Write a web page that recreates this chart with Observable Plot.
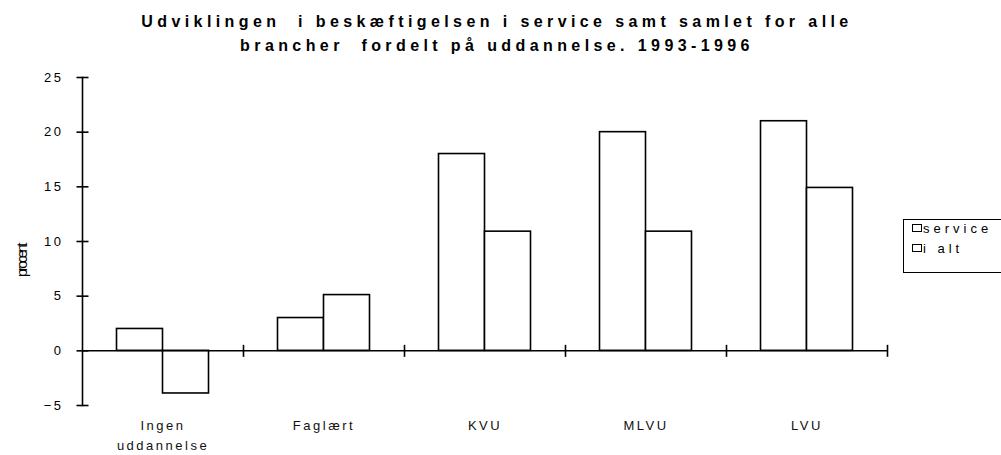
<!DOCTYPE html>
<html>
<head>
<meta charset="utf-8">
<script src="https://cdn.jsdelivr.net/npm/d3@7"></script>
<script src="https://cdn.jsdelivr.net/npm/@observablehq/plot@0.6"></script>
<style>
  body { margin: 0; background: #fff; font-family: "Liberation Sans", Arial, sans-serif; }
  #wrap { position: relative; width: 1001px; height: 455px; overflow: hidden; background: #fff; }
  #chart { position: absolute; left: 0; top: 0; }
  #title { position: absolute; left: 0; top: 10px; width: 994px; text-align: center; font-weight: bold;
           font-size: 16px; line-height: 24px; letter-spacing: 4.4px; color: #000; }
  #ylab { position: absolute; left: 21px; top: 261px; transform: translate(-50%, -50%) rotate(-90deg);
          font-size: 15px; letter-spacing: -2.6px; color: #000; white-space: nowrap; }
  #legend { position: absolute; left: 903px; top: 219px; width: 120px; height: 54px; box-sizing: border-box;
            border: 1.5px solid #000; background: #fff; }
  .item { position: absolute; left: 8px; height: 16px; display: flex; align-items: center;
          font-size: 13px; letter-spacing: 4px; color: #000; }
  .sw { width: 8px; height: 6px; border: 1.5px solid #000; background: #fff; margin-right: 1px; }
</style>
</head>
<body>
<div id="wrap">
  <div id="chart"></div>
  <div id="title"></div>
  <div id="ylab"></div>
  <div id="legend"></div>
</div>
<script>
// ---- data ----
const titleLines = ["Udviklingen  i beskæftigelsen i service samt samlet for alle", "brancher  fordelt på uddannelse. 1993-1996"];
const yLabel = "procent";
const categories = ["Ingen uddannelse", "Faglært", "KVU", "MLVU", "LVU"];
const categoryLabels = ["Ingen\nuddannelse", "Faglært", "KVU", "MLVU", "LVU"];
const seriesNames = ["service", "i alt"];
const serviceValues = [2, 3, 18, 20, 21];
const iAltValues = [-3.9, 5.1, 10.9, 10.9, 14.9];
const yTicks = [-5, 0, 5, 10, 15, 20, 25];

// ---- table ----
const table = categories.flatMap((c, i) => [
  {cat: c, series: seriesNames[0], value: serviceValues[i]},
  {cat: c, series: seriesNames[1], value: iAltValues[i]}
]);

const hline = {draw(ctx) { ctx.moveTo(-6, 0); ctx.lineTo(6, 0); }};
const vline = {draw(ctx) { ctx.moveTo(0, -6); ctx.lineTo(0, 6); }};

const chart = Plot.plot({
  width: 1001,
  height: 455,
  marginTop: 77,
  marginBottom: 50,
  marginLeft: 81.5,
  marginRight: 113,
  style: {fontFamily: "Liberation Sans, Arial, sans-serif", fontSize: "13px", color: "#000", background: "transparent", overflow: "visible"},
  fx: {domain: categories, paddingInner: 0, paddingOuter: 0, axis: null},
  x: {domain: seriesNames, paddingInner: 0, paddingOuter: 0.75, axis: null},
  y: {domain: [-5, 25], axis: null},
  marks: [
    Plot.barY(table, {fx: "cat", x: "series", y: "value", fill: "white", stroke: "black", strokeWidth: 1.6}),
    Plot.ruleY([0], {stroke: "black", strokeWidth: 1.5}),
    Plot.frame({anchor: "left", facetAnchor: "left", stroke: "black", strokeWidth: 1.6}),
    Plot.dot(yTicks, {y: d => d, frameAnchor: "left", facetAnchor: "left", symbol: hline, fill: "none", stroke: "black", strokeWidth: 1.6}),
    Plot.dot([0], {y: d => d, frameAnchor: "right", symbol: vline, fill: "none", stroke: "black", strokeWidth: 1.6}),
    Plot.axisY({ticks: yTicks, tickSize: 0, tickPadding: 19, label: null, fontSize: 13}),
    Plot.text(categories, {fx: d => d, text: (d, i) => categoryLabels[i], frameAnchor: "bottom", lineAnchor: "top", dy: 11, lineHeight: 1.5, fontSize: 13, fill: "#111"})
  ]
});
d3.select(chart).selectAll("text").style("letter-spacing", "2.5px");
document.getElementById("chart").appendChild(chart);

document.getElementById("title").innerHTML = titleLines.map(t => t.replace(/  /g, "&nbsp; ")).join("<br>");
document.getElementById("ylab").textContent = yLabel;
const legend = document.getElementById("legend");
seriesNames.forEach((s, i) => {
  const it = document.createElement("div");
  it.className = "item";
  it.style.top = (0 + i * 20) + "px";
  it.innerHTML = '<span class="sw"></span><span></span>';
  it.lastChild.textContent = s;
  legend.appendChild(it);
});
</script>
</body>
</html>
